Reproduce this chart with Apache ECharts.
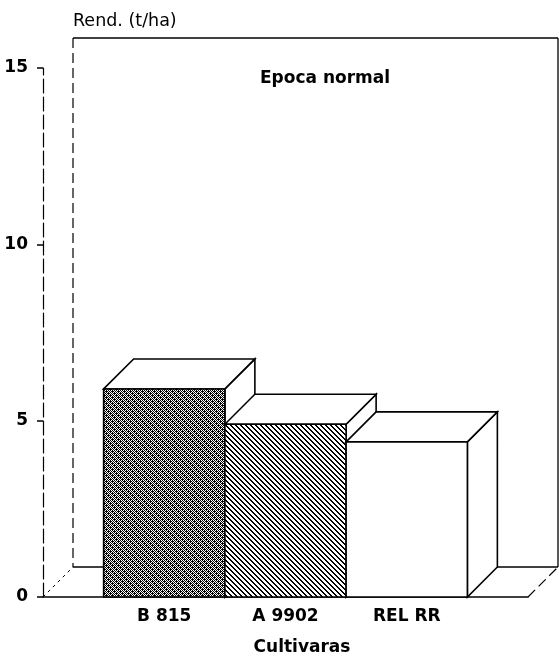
<!DOCTYPE html>
<html><head><meta charset="utf-8">
<script src="https://cdn.jsdelivr.net/npm/echarts@6/dist/echarts.min.js"></script>
<style>html,body{margin:0;padding:0;background:#fff}#c{width:559px;height:661px}</style>
</head><body><div id="c"></div>
<script>
// ---- data ----
const categories = ['B 815', 'A 9902', 'REL RR'];
const yields = [5.9, 4.9, 4.4];
const yTicks = [0, 5, 10, 15];
const chartTitle = 'Epoca normal';
const yName = 'Rend. (t/ha)';
const xName = 'Cultivaras';

// ---- styling ----
const DEPTH = 30;
const BAR_HALF = 0.5;
const FONT = 'DejaVu Sans';

function makePattern(kind) {
  const c = document.createElement('canvas');
  let rows;
  if (kind === 'stipple') {
    rows = ['101010', '010111', '101010', '110101', '101010', '011101'];
  } else {
    const p = 5; rows = [];
    for (let y = 0; y < p; y++) {
      let r = '';
      for (let x = 0; x < p; x++) r += (((x - y) % p + p) % p) < 2 ? '1' : '0';
      rows.push(r);
    }
  }
  c.width = rows[0].length; c.height = rows.length;
  const ctx = c.getContext('2d');
  ctx.fillStyle = '#fff'; ctx.fillRect(0, 0, c.width, c.height);
  ctx.fillStyle = '#000';
  rows.forEach((r, y) => { for (let x = 0; x < r.length; x++) if (r[x] === '1') ctx.fillRect(x, y, 1, 1); });
  return { image: c, repeat: 'repeat' };
}
const fills = [makePattern('stipple'), makePattern('hatch'), '#ffffff'];

const chart = echarts.init(document.getElementById('c'), null, { renderer: 'canvas' });
const xMax = categories.length + 1;
const yMin = yTicks[0], yMax = yTicks[yTicks.length - 1];

chart.setOption({
  backgroundColor: '#fff',
  animation: false,
  title: {
    text: chartTitle, left: 260, top: 70, padding: 0,
    textStyle: { fontFamily: FONT, fontWeight: 'bold', fontSize: 17, color: '#000' }
  },
  grid: { left: 43, right: 31, top: 68, bottom: 61, containLabel: false },
  xAxis: {
    type: 'value', min: 0, max: xMax, interval: 1,
    name: xName, nameLocation: 'middle', nameGap: 42,
    nameTextStyle: { fontFamily: FONT, fontWeight: 'bold', fontSize: 17, color: '#000', padding: [0, 0, 0, 33] },
    axisLine: { show: true, lineStyle: { color: '#000', width: 1.5 } },
    axisTick: { show: false },
    splitLine: { show: false },
    axisLabel: {
      margin: 11, fontFamily: FONT, fontWeight: 'bold', fontSize: 17, color: '#000',
      formatter: v => categories[v - 1] || ''
    }
  },
  yAxis: {
    type: 'value', min: yMin, max: yMax, interval: yTicks[1] - yTicks[0],
    name: yName, nameLocation: 'end', nameGap: 38,
    nameTextStyle: { fontFamily: FONT, fontSize: 17.5, color: '#000', align: 'left', padding: [0, 0, 0, 30] },
    axisLine: { show: true, lineStyle: { color: '#000', width: 1.2, type: [14, 4] } },
    axisTick: { show: true, inside: false, length: 6, lineStyle: { color: '#000', width: 1.5 } },
    splitLine: { show: false },
    axisLabel: { margin: 15, fontFamily: FONT, fontWeight: 'bold', fontSize: 17, color: '#000' }
  },
  series: [
    {
      type: 'custom', name: 'frame', z: 1, silent: true,
      data: [[0, 0]],
      renderItem: function (params, api) {
        const a = api.coord([0, yMin]);
        const b = api.coord([xMax, yMax]);
        const L = a[0], B = a[1], R = b[0], T = b[1], d = DEPTH;
        const s = { stroke: '#000', lineWidth: 1.3 };
        const sd = { stroke: '#000', lineWidth: 1.2, lineDash: [10, 5] };
        return {
          type: 'group', children: [
            { type: 'line', shape: { x1: L + d, y1: T - d, x2: R + d, y2: T - d }, style: s },
            { type: 'line', shape: { x1: L + d, y1: T - d, x2: L + d, y2: B - d }, style: sd },
            { type: 'line', shape: { x1: R + d, y1: T - d, x2: R + d, y2: B - d }, style: s },
            { type: 'line', shape: { x1: L + d, y1: B - d, x2: R + d, y2: B - d }, style: s },
            { type: 'line', shape: { x1: L, y1: B, x2: L + d, y2: B - d }, style: { stroke: '#000', lineWidth: 1, lineDash: [3, 4] } },
            { type: 'line', shape: { x1: R, y1: B, x2: R + d, y2: B - d }, style: sd }
          ]
        };
      }
    },
    {
      type: 'custom', name: 'Rendimiento', z: 2,
      encode: { x: 0, y: 1 },
      data: categories.map((c, i) => [i + 1, yields[i]]),
      renderItem: function (params, api) {
        const i = params.dataIndex;
        const x = api.value(0), v = api.value(1);
        const tl = api.coord([x - BAR_HALF, v]);
        const br = api.coord([x + BAR_HALF, 0]);
        const x0 = tl[0], x1 = br[0], yt = tl[1], yb = br[1], d = DEPTH;
        const ln = { stroke: '#000', lineWidth: 1.6, lineJoin: 'miter' };
        return {
          type: 'group', children: [
            { type: 'polygon', shape: { points: [[x1, yt], [x1 + d, yt - d], [x1 + d, yb - d], [x1, yb]] }, style: Object.assign({ fill: '#fff' }, ln) },
            { type: 'polygon', shape: { points: [[x0, yt], [x0 + d, yt - d], [x1 + d, yt - d], [x1, yt]] }, style: Object.assign({ fill: '#fff' }, ln) },
            { type: 'rect', shape: { x: x0, y: yt, width: x1 - x0, height: yb - yt }, style: Object.assign({ fill: fills[i] }, ln) }
          ]
        };
      }
    }
  ]
});
</script></body></html>
